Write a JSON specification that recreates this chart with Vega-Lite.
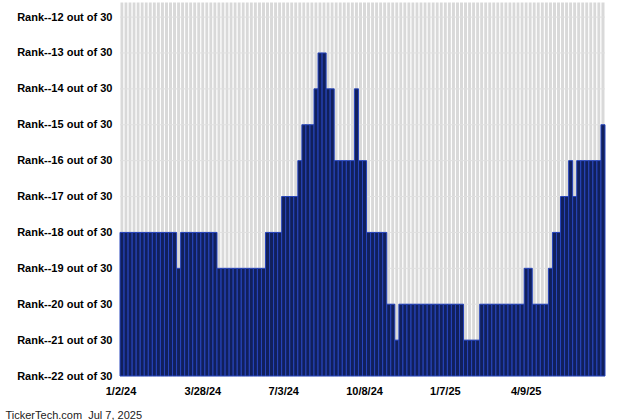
{
  "$schema": "https://vega.github.io/schema/vega-lite/v6.json",
  "width": 485,
  "height": 374,
  "autosize": "none",
  "padding": {"left": 120, "top": 2, "right": 35, "bottom": 44},
  "background": "white",
  "config": {
    "view": {"stroke": null},
    "font": "Liberation Sans"
  },
  "resolve": {"axis": {"x": "independent", "y": "independent"}},
  "datasets": {
    "grid": [{"rank": 12}, {"rank": 13}, {"rank": 14}, {"rank": 15}, {"rank": 16}, {"rank": 17}, {"rank": 18}, {"rank": 19}, {"rank": 20}, {"rank": 21}, {"rank": 22}],
    "first": [{"i": 0, "label": "1/2/24"}],
    "bars": [
      {"i":0,"rank":18},{"i":1,"rank":18},{"i":2,"rank":18},{"i":3,"rank":18},{"i":4,"rank":18},{"i":5,"rank":18},{"i":6,"rank":18},{"i":7,"rank":18},{"i":8,"rank":18},{"i":9,"rank":18},
      {"i":10,"rank":18},{"i":11,"rank":18},{"i":12,"rank":18},{"i":13,"rank":18},{"i":14,"rank":19},{"i":15,"rank":18},{"i":16,"rank":18},{"i":17,"rank":18},{"i":18,"rank":18},{"i":19,"rank":18},
      {"i":20,"rank":18},{"i":21,"rank":18},{"i":22,"rank":18},{"i":23,"rank":18},{"i":24,"rank":19},{"i":25,"rank":19},{"i":26,"rank":19},{"i":27,"rank":19},{"i":28,"rank":19},{"i":29,"rank":19},
      {"i":30,"rank":19},{"i":31,"rank":19},{"i":32,"rank":19},{"i":33,"rank":19},{"i":34,"rank":19},{"i":35,"rank":19},{"i":36,"rank":18},{"i":37,"rank":18},{"i":38,"rank":18},{"i":39,"rank":18},
      {"i":40,"rank":17},{"i":41,"rank":17},{"i":42,"rank":17},{"i":43,"rank":17},{"i":44,"rank":16},{"i":45,"rank":15},{"i":46,"rank":15},{"i":47,"rank":15},{"i":48,"rank":14},{"i":49,"rank":13},
      {"i":50,"rank":13},{"i":51,"rank":14},{"i":52,"rank":14},{"i":53,"rank":16},{"i":54,"rank":16},{"i":55,"rank":16},{"i":56,"rank":16},{"i":57,"rank":16},{"i":58,"rank":14},{"i":59,"rank":16},
      {"i":60,"rank":16},{"i":61,"rank":18},{"i":62,"rank":18},{"i":63,"rank":18},{"i":64,"rank":18},{"i":65,"rank":18},{"i":66,"rank":20},{"i":67,"rank":20},{"i":68,"rank":21},{"i":69,"rank":20},
      {"i":70,"rank":20},{"i":71,"rank":20},{"i":72,"rank":20},{"i":73,"rank":20},{"i":74,"rank":20},{"i":75,"rank":20},{"i":76,"rank":20},{"i":77,"rank":20},{"i":78,"rank":20},{"i":79,"rank":20},
      {"i":80,"rank":20},{"i":81,"rank":20},{"i":82,"rank":20},{"i":83,"rank":20},{"i":84,"rank":20},{"i":85,"rank":21},{"i":86,"rank":21},{"i":87,"rank":21},{"i":88,"rank":21},{"i":89,"rank":20},
      {"i":90,"rank":20},{"i":91,"rank":20},{"i":92,"rank":20},{"i":93,"rank":20},{"i":94,"rank":20},{"i":95,"rank":20},{"i":96,"rank":20},{"i":97,"rank":20},{"i":98,"rank":20},{"i":99,"rank":20},
      {"i":100,"rank":19},{"i":101,"rank":19},{"i":102,"rank":20},{"i":103,"rank":20},{"i":104,"rank":20},{"i":105,"rank":20},{"i":106,"rank":19},{"i":107,"rank":18},{"i":108,"rank":18},{"i":109,"rank":17},
      {"i":110,"rank":17},{"i":111,"rank":16},{"i":112,"rank":17},{"i":113,"rank":16},{"i":114,"rank":16},{"i":115,"rank":16},{"i":116,"rank":16},{"i":117,"rank":16},{"i":118,"rank":16},{"i":119,"rank":15}
    ]
  },
  "layer": [
    {
      "data": {"name": "bars"},
      "mark": {"type": "bar", "color": "#d9d9d9", "stroke": "white", "strokeWidth": 1},
      "encoding": {
        "x": {"field": "i", "type": "ordinal", "axis": null, "scale": {"paddingInner": 0, "paddingOuter": 0}},
        "y": {"datum": 22, "type": "quantitative", "axis": null, "scale": {"domain": [11.58, 22], "reverse": true, "nice": false, "zero": false}},
        "y2": {"datum": 11.58}
      }
    },
    {
      "data": {"name": "grid"},
      "mark": {"type": "rule", "color": "#e0e0e0", "strokeWidth": 1},
      "encoding": {"y": {"field": "rank", "type": "quantitative", "axis": null}}
    },
    {
      "data": {"name": "bars"},
      "mark": {"type": "bar", "color": "#11205c", "stroke": "#2644bc", "strokeWidth": 1},
      "encoding": {
        "x": {
          "field": "i", "type": "ordinal",
          "axis": {
            "values": [20, 40, 60, 80, 100],
            "bandPosition": 0.25,
            "labelExpr": "datum.value == 20 ? '3/28/24' : datum.value == 40 ? '7/3/24' : datum.value == 60 ? '10/8/24' : datum.value == 80 ? '1/7/25' : '4/9/25'",
            "labelAngle": 0,
            "labelAlign": "center",
            "labelOverlap": false,
            "labelBound": false,
            "labelFlush": false,
            "labelFont": "Liberation Sans",
            "labelFontSize": 11,
            "labelFontWeight": "bold",
            "labelColor": "black",
            "labelPadding": 9,
            "ticks": false,
            "domain": false,
            "grid": false,
            "title": "TickerTech.com\u00a0\u00a0Jul 7, 2025",
            "titleFont": "Liberation Sans",
            "titleFontSize": 11,
            "titleFontWeight": "normal",
            "titleColor": "#222222",
            "titleAlign": "left",
            "titleBaseline": "alphabetic",
            "titleX": -115,
            "titleY": 42
          }
        },
        "y": {
          "field": "rank", "type": "quantitative",
          "axis": {
            "values": [12, 13, 14, 15, 16, 17, 18, 19, 20, 21, 22],
            "labelExpr": "'Rank--' + datum.value + ' out of 30'",
            "labelAlign": "right",
            "labelBaseline": "middle",
            "labelOverlap": false,
            "labelBound": false,
            "labelFlush": false,
            "labelFont": "Liberation Sans",
            "labelFontSize": 11,
            "labelFontWeight": "bold",
            "labelColor": "black",
            "labelPadding": 8,
            "ticks": false,
            "domain": false,
            "grid": false,
            "title": null
          }
        },
        "y2": {"datum": 22}
      }
    },
    {
      "data": {"name": "first"},
      "mark": {"type": "text", "font": "Liberation Sans", "fontSize": 11, "fontWeight": "bold", "color": "black", "align": "center", "baseline": "middle", "dx": -1},
      "encoding": {
        "x": {"field": "i", "type": "ordinal", "axis": null},
        "y": {"datum": 22.44, "type": "quantitative", "axis": null},
        "text": {"field": "label"}
      }
    }
  ]
}
